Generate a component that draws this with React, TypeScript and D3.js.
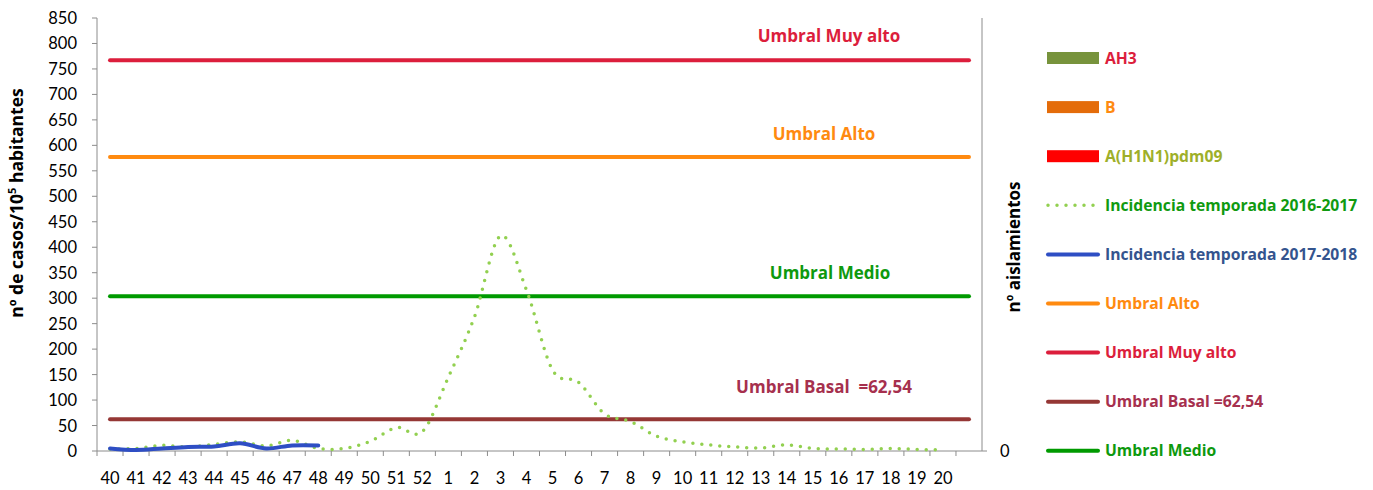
import * as d3 from 'd3';

const weeks = ['40', '41', '42', '43', '44', '45', '46', '47', '48', '49', '50', '51', '52',
  '1', '2', '3', '4', '5', '6', '7', '8', '9', '10', '11', '12', '13', '14', '15', '16', '17', '18', '19', '20', ''];

const season1617 = [4, 5, 11, 8, 13, 18, 10, 21, 5, 5, 19, 46, 38, 145, 263, 422, 316, 159, 135, 73, 58,
  29, 18, 12, 8, 6, 12, 5, 4, 3, 5, 3, 2];
const season1718 = [5, 2, 5, 8, 9, 15, 5, 11, 11];

const yTicks = d3.range(0, 851, 50);

const thresholds = [
  { name: 'Umbral Muy alto', value: 767, line: '#DC1E3C', text: '#DC1E3C', label: 'Umbral Muy alto' },
  { name: 'Umbral Alto', value: 577, line: '#FF8A10', text: '#FF8A10', label: 'Umbral Alto' },
  { name: 'Umbral Medio', value: 304, line: '#009A00', text: '#0E990E', label: 'Umbral Medio' },
  { name: 'Umbral Basal', value: 62.54, line: '#953735', text: '#A6304E', label: 'Umbral Basal  =62,54' },
];

const thresholdLabelPos = [
  { x: 829, y: 42 },
  { x: 824, y: 140 },
  { x: 830, y: 279 },
  { x: 824, y: 393 },
];

type LegendItem = { label: string; kind: 'bar' | 'line' | 'dot'; color: string; text: string };
const legendItems: LegendItem[] = [
  { label: 'AH3', kind: 'bar', color: '#77933C', text: '#DC1E3C' },
  { label: 'B', kind: 'bar', color: '#E46C0A', text: '#FF8A10' },
  { label: 'A(H1N1)pdm09', kind: 'bar', color: '#FF0000', text: '#9EAF2A' },
  { label: 'Incidencia temporada 2016-2017', kind: 'dot', color: '#92D050', text: '#109A10' },
  { label: 'Incidencia temporada 2017-2018', kind: 'line', color: '#2E4EC4', text: '#34548E' },
  { label: 'Umbral Alto', kind: 'line', color: '#FF8A10', text: '#FF8A10' },
  { label: 'Umbral Muy alto', kind: 'line', color: '#DC1E3C', text: '#DC1E3C' },
  { label: 'Umbral Basal =62,54', kind: 'line', color: '#953735', text: '#A6304E' },
  { label: 'Umbral Medio', kind: 'line', color: '#009A00', text: '#0E990E' },
];

const FONT = 'Lato, "Open Sans", sans-serif';
const BOLD = '"Open Sans", Lato, sans-serif';
const AXIS = '#8C8C8C';

export default function App() {
  const W = 1373;
  const H = 490;
  const left = 97;
  const right = 982;
  const top = 18;
  const bottom = 451;

  const x = d3.scaleBand<string>().domain(weeks).range([left, right]);
  const y = d3.scaleLinear().domain([0, 850]).range([bottom, top]);
  const cx = (i: number) => (x(weeks[i]) ?? 0) + x.bandwidth() / 2;

  const line = d3.line<number>()
    .x((_, i) => cx(i))
    .y((d) => y(d))
    .curve(d3.curveCardinal.tension(0));

  const first = cx(0);
  const last = cx(weeks.length - 1);

  return (
    <svg width={W} height={H} style={{ position: 'absolute', left: 0, top: 0 }} fontFamily={FONT}>
      <rect width={W} height={H} fill="#fff" />

      {/* left axis */}
      <line x1={left} x2={left} y1={top} y2={bottom} stroke={AXIS} />
      {yTicks.map((t) => (
        <g key={t}>
          <line x1={left - 5} x2={left} y1={y(t)} y2={y(t)} stroke={AXIS} />
          <text x={left - 20} y={y(t) + 6} textAnchor="end" fontSize={16.5} fill="#000">{t}</text>
        </g>
      ))}

      {/* right axis */}
      <line x1={right} x2={right} y1={top} y2={bottom} stroke={AXIS} />
      <line x1={right} x2={right + 5} y1={bottom} y2={bottom} stroke={AXIS} />
      <text x={1000} y={bottom + 6} fontSize={16.5} fill="#000">0</text>

      {/* x axis */}
      <line x1={left} x2={right} y1={bottom} y2={bottom} stroke={AXIS} />
      {weeks.map((w, i) => (
        <g key={i}>
          <line x1={x(w)} x2={x(w)} y1={bottom} y2={bottom + 5} stroke={AXIS} />
          <text x={cx(i)} y={484} textAnchor="middle" fontSize={16.5} fill="#000">{w}</text>
        </g>
      ))}

      {/* axis titles */}
      <text transform={`translate(23,203) rotate(-90)`} textAnchor="middle" fontFamily={BOLD} fontSize={17.5} fontWeight="bold" fill="#000">
        nº de casos/10<tspan fontSize={11} dy={-7}>5</tspan><tspan dy={7}> habitantes</tspan>
      </text>
      <text transform={`translate(1020,247) rotate(-90)`} textAnchor="middle" fontFamily={BOLD} fontSize={17} fontWeight="bold" fill="#000">
        nº aislamientos
      </text>

      {/* thresholds */}
      {thresholds.map((t, i) => (
        <g key={t.name}>
          <line x1={first} x2={last} y1={y(t.value)} y2={y(t.value)} stroke={t.line} strokeWidth={4} strokeLinecap="round" />
          <text x={thresholdLabelPos[i].x} y={thresholdLabelPos[i].y} textAnchor="middle" fontFamily={BOLD} fontSize={17} fontWeight="bold" fill={t.text} style={{ whiteSpace: 'pre' }}>
            {t.label}
          </text>
        </g>
      ))}

      {/* series */}
      <path d={line(season1617) ?? ''} fill="none" stroke="#92D050" strokeWidth={3.5} strokeLinecap="round" strokeDasharray="0 9" />
      <path d={line(season1718) ?? ''} fill="none" stroke="#2E4EC4" strokeWidth={4} strokeLinecap="round" />

      {/* legend */}
      {legendItems.map((it, i) => {
        const ly = 58 + i * 49.1;
        return (
          <g key={it.label}>
            {it.kind === 'bar' && <rect x={1047} y={ly - 6} width={52} height={12} fill={it.color} />}
            {it.kind === 'line' && <line x1={1048} x2={1098} y1={ly} y2={ly} stroke={it.color} strokeWidth={4} strokeLinecap="round" />}
            {it.kind === 'dot' && <line x1={1048} x2={1098} y1={ly} y2={ly} stroke={it.color} strokeWidth={3.5} strokeLinecap="round" strokeDasharray="0 9" />}
            <text x={1105} y={ly + 5.5} fontFamily={BOLD} fontSize={15.7} fontWeight="bold" fill={it.text}>{it.label}</text>
          </g>
        );
      })}
    </svg>
  );
}
